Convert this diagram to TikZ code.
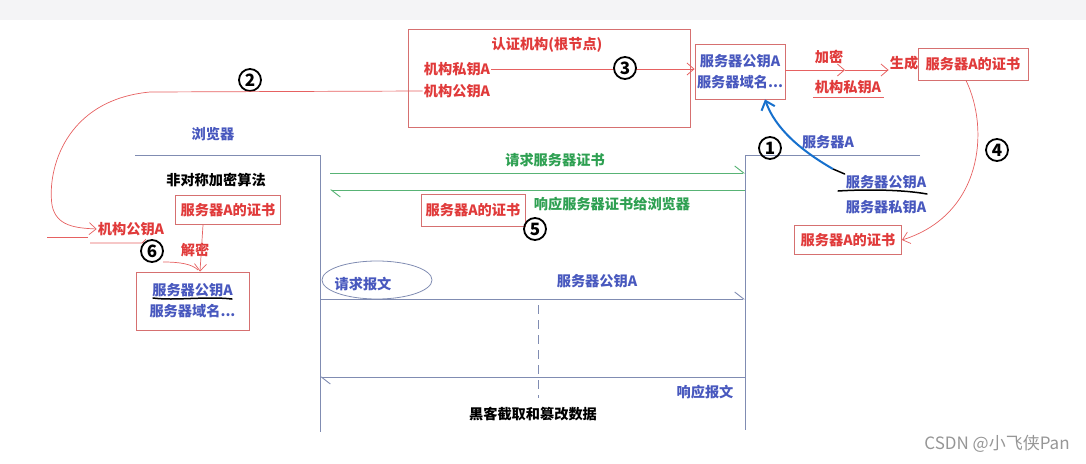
\documentclass[tikz,border=0pt]{standalone}
\usepackage{fontspec}
\setmainfont{Noto Sans CJK SC}
\usetikzlibrary{arrows.meta,shapes.geometric}
\definecolor{cred}{RGB}{224,58,58}
\definecolor{cboxred}{RGB}{214,112,112}
\definecolor{cblue}{RGB}{72,88,190}
\definecolor{cgreen}{RGB}{46,160,82}
\definecolor{carrowblue}{RGB}{22,112,205}
\definecolor{cframe}{RGB}{128,140,178}
\definecolor{ctop}{RGB}{244,244,246}
\definecolor{cwm}{RGB}{150,150,150}
\begin{document}
\begin{tikzpicture}[x=1pt,y=-1pt,
  txt/.style={inner sep=1pt,font=\bfseries\fontsize{14.2}{16}\selectfont},
  redtxt/.style={txt,text=cred},
  bluetxt/.style={txt,text=cblue},
  greentxt/.style={txt,text=cgreen},
  blacktxt/.style={txt,text=black},
  redbox/.style={draw=cboxred,line width=0.9pt,inner sep=2pt},
  boxfont/.style={font=\bfseries\fontsize{14.2}{21}\selectfont},
  frame/.style={draw=cframe,line width=0.9pt},
  redline/.style={draw=cred!80,line width=0.8pt},
  greenline/.style={draw=cgreen!80,line width=0.9pt},
  barb/.style={-{Straight Barb[length=7pt,width=12pt]}},
  halfbarb/.style={-{Straight Barb[left,length=9pt,width=14pt]}},
  num/.style={circle,draw=black,line width=1.8pt,inner sep=0pt,minimum size=22pt,fill=white,font=\bfseries\fontsize{17}{17}\selectfont},
  ink/.style={draw=black,line width=1.8pt,line cap=round}]
\useasboundingbox (0,0) rectangle (1086,463);
\fill[ctop] (0,0) rectangle (1086,20);

% ---------- certificate authority ----------
\node[redbox,minimum width=282pt,minimum height=98pt] (auth) at (549,78) {};
\node[redtxt] (authtitle) at (547,45) {认证机构(根节点)};
\node[redtxt] (authpriv) at (457,69) {机构私钥A};
\node[redtxt] (authpub) at (457,91) {机构公钥A};

\node[redbox,minimum width=86pt,minimum height=55pt,align=center,text=cblue,boxfont] (sinfo) at (740,71.5) {服务器公钥A\\服务器域名...};
\draw[redline,barb] (authpriv.east) -- (sinfo.west |- authpriv.east);
\node[num] (n3) at (625,68) {3};

\node[redtxt] (enc) at (829,57) {加密};
\node[redtxt] (privlbl) at (848,87) {机构私钥A};
\draw[redline] (813,97) -- (884,97);
\node[redtxt] (gen) at (904,63) {生成};
\node[redbox,text=cred,boxfont,minimum width=110pt,minimum height=32pt] (cert1) at (973,64) {服务器A的证书};
\coordinate (m1) at (845,70);
\draw[redline,barb] (sinfo.east |- m1) -- (m1);
\draw[redline,barb] (m1) -- (gen.west |- m1);

% ---------- browser ----------
\coordinate (bTL) at (135,155);
\coordinate (bTR) at (320,155);
\coordinate (bBot) at (320,432);
\draw[frame] (bTL) -- (bTR) -- (bBot);
\node[bluetxt] (blabel) at (213,134) {浏览器};
\node[blacktxt] (alg) at (216,180) {非对称加密算法};
\node[redbox,text=cred,boxfont,minimum width=105pt,minimum height=29pt] (bcert) at (228,210) {服务器A的证书};
\node[redtxt] (bpub) at (131,229) {机构公钥A};
\node[redtxt] (dec) at (195,250) {解密};
\node[redbox,minimum width=113pt,minimum height=58pt,align=center,text=cblue,boxfont] (bbox) at (192.5,301) {服务器公钥A\\服务器域名...};
\draw[ink,line width=1.5pt] (153,298) .. controls (175,301) and (205,296) .. (232,299);

\node[num] (n2) at (250,80) {2};
\draw[redline,line width=0.7pt,barb] (authpub.west) -- (150,92) .. controls (65,100) and (47,170) .. (52,205) .. controls (56,226) and (75,228) .. (bpub.west);
\draw[redline,line width=0.7pt] (47,237) -- (88,237);
\draw[redline,line width=0.7pt] (90,243) -- (142,243) -- (146,239);
\draw[redline,line width=0.7pt,barb] (bcert.south -| 203,0) -- (bbox.north -| 200,0);
\draw[redline,line width=0.7pt] (163,262) .. controls (180,262) and (192,264) .. (198,270);
\node[num] (n6) at (152,251) {6};

% ---------- server ----------
\coordinate (sTL) at (745,155);
\coordinate (sTR) at (920,155);
\coordinate (sBot) at (745,430);
\draw[frame] (sTR) -- (sTL) -- (sBot);
\node[bluetxt] (sname) at (828,142) {服务器A};
\node[num,fill=none] (n1) at (770,148) {1};
\node[bluetxt] (spub) at (886,182) {服务器公钥A};
\node[bluetxt] (spriv) at (886,207) {服务器私钥A};
\node[redbox,text=cred,boxfont,minimum width=107pt,minimum height=29pt] (scert) at (848,240) {服务器A的证书};
\draw[ink,line width=1.5pt] (838,191) .. controls (870,189) and (905,190) .. (927,194);
\coordinate (bstart) at (833,169);
\draw[ink,line width=1.5pt] (spub.north west) -- (bstart);
\draw[draw=carrowblue,line width=2pt,-{Straight Barb[length=8pt,width=14pt]}] (bstart) .. controls (800,150) and (775,128) .. ([xshift=25pt]sinfo.south);
\node[num,fill=none] (n4) at (997,150) {4};
\draw[redline,line width=0.7pt,barb] (cert1.south -| 966,0) .. controls (990,130) and (982,215) .. (scert.east);

% ---------- exchange ----------
\node[greentxt] (reqtxt) at (555,160) {请求服务器证书};
\coordinate (gA) at (330,173);
\coordinate (gB) at (745,173);
\draw[greenline,halfbarb] (gA) -- (gB);
\coordinate (gC) at (745,190);
\coordinate (gD) at (330,190);
\draw[greenline,halfbarb] (gC) -- (gD);
\node[greentxt] (resptxt) at (612,204) {响应服务器证书给浏览器};
\node[redbox,text=cred,boxfont,minimum width=104pt,minimum height=32pt] (mcert) at (473,210) {服务器A的证书};
\node[num,fill=none] (n5) at (535,229) {5};

\node[bluetxt] (reqmsg) at (363,284) {请求报文};
\draw[frame,line width=0.8pt] (377,280) ellipse (55 and 19);
\node[bluetxt] (spubmid) at (597,281) {服务器公钥A};
\coordinate (pA) at (320,299);
\coordinate (pB) at (745,299);
\draw[frame,halfbarb] (pA) -- (pB);
\coordinate (hT) at (538,305);
\coordinate (hB) at (538,398);
\draw[frame,dashed,dash pattern=on 9pt off 6pt] (hT) -- (hB);
\coordinate (rA) at (745,377);
\coordinate (rB) at (320,377);
\draw[frame,halfbarb] (rA) -- (rB);
\node[bluetxt] (resmsg) at (705,392) {响应报文};
\node[blacktxt] (hacker) at (533,414) {黑客截取和篡改数据};

\node[inner sep=0pt,text=cwm,font=\fontsize{17}{19}\selectfont] (wm) at (997,444) {CSDN @小飞侠Pan};
\end{tikzpicture}
\end{document}
